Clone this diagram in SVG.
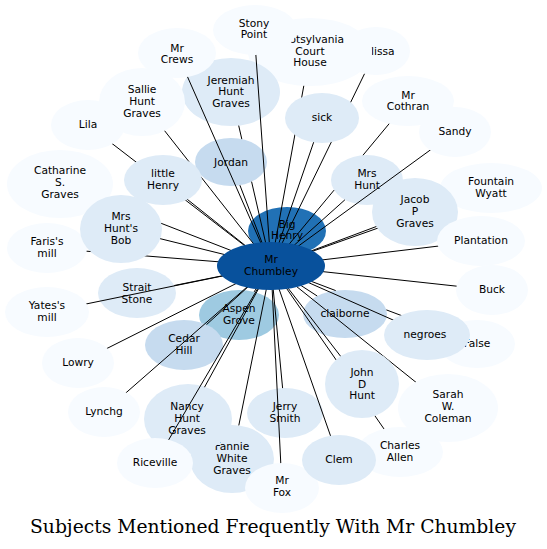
<svg xmlns="http://www.w3.org/2000/svg" width="547" height="549" viewBox="0 0 547 549">
<style>
.n0{fill:#f7fbff}.n1{fill:#deebf7}.n2{fill:#c6dbef}.n3{fill:#9ecae1}.n4{fill:#2171b5}.n5{fill:#08519c}
text{font-family:"DejaVu Sans",Verdana,sans-serif;font-size:10.67px;fill:#000;text-anchor:middle}
.title{font-family:"DejaVu Serif",serif;font-size:19px}
#edges path{stroke:#000;stroke-width:1;fill:none}
</style>
<rect width="547" height="549" fill="#fff"/>
<g id="layer-under">
<g id="melissa"><ellipse class="n0" cx="376" cy="51" rx="34" ry="24"/><text x="375" y="54.5">Melissa</text></g>
<g id="spotsylvania"><ellipse class="n0" cx="310" cy="52" rx="62" ry="34"/><text x="310" y="43">Spotsylvania</text><text x="310" y="54.5">Court</text><text x="310" y="66">House</text></g>
<g id="bighenry"><ellipse class="n4" cx="287" cy="231" rx="39" ry="24"/><text x="287" y="227.5">Big</text><text x="287" y="239">Henry</text></g>
<g id="jeremiah"><ellipse class="n1" cx="231" cy="92" rx="49" ry="34"/><text x="231" y="83.5">Jeremiah</text><text x="231" y="95">Hunt</text><text x="231" y="107">Graves</text></g>
<g id="jordan"><ellipse class="n2" cx="231" cy="162" rx="36" ry="24"/><text x="231" y="166">Jordan</text></g>
<g id="mrshunt"><ellipse class="n1" cx="367" cy="180" rx="36" ry="25"/><text x="367" y="176.5">Mrs</text><text x="367" y="188.5">Hunt</text></g>
<g id="straitstone"><ellipse class="n1" cx="137" cy="293" rx="39" ry="25"/><text x="137" y="290.5">Strait</text><text x="137" y="302.5">Stone</text></g>
<g id="aspengrove"><ellipse class="n3" cx="239" cy="315" rx="40" ry="25"/><text x="239" y="311.5">Aspen</text><text x="239" y="323.5">Grove</text></g>
<g id="cedarhill"><ellipse class="n2" cx="184" cy="345" rx="39" ry="25"/><text x="184" y="342">Cedar</text><text x="184" y="354">Hill</text></g>
<g id="fannie"><ellipse class="n1" cx="232" cy="459" rx="42" ry="34"/><text x="232" y="450">Fannie</text><text x="232" y="462">White</text><text x="232" y="474">Graves</text></g>
<g id="nancy"><ellipse class="n1" cx="188" cy="419" rx="44" ry="35"/><text x="187" y="410">Nancy</text><text x="187" y="422">Hunt</text><text x="187" y="434">Graves</text></g>
<g id="jerrysmith"><ellipse class="n1" cx="285" cy="413" rx="38" ry="25"/><text x="285" y="410">Jerry</text><text x="285" y="422">Smith</text></g>
<g id="claiborne"><ellipse class="n2" cx="345" cy="314" rx="42" ry="24"/><text x="345" y="317">claiborne</text></g>
</g>
<g id="edges">
<path d="M271,266L254,29"/>
<path d="M271,266L177,53"/>
<path d="M271,266L88,125"/>
<path d="M271,266L142,102"/>
<path d="M271,266L163,180"/>
<path d="M271,266L60,184"/>
<path d="M271,266L47,248"/>
<path d="M271,266L121,229"/>
<path d="M271,266L47,312"/>
<path d="M271,266L78,363"/>
<path d="M271,266L104,412"/>
<path d="M271,266L155,463"/>
<path d="M271,266L282,488"/>
<path d="M271,266L400,452"/>
<path d="M271,266L339,460"/>
<path d="M271,266L362,384"/>
<path d="M271,266L448,408"/>
<path d="M271,266L427,335"/>
<path d="M271,266L492,290"/>
<path d="M271,266L491,188"/>
<path d="M271,266L415,212"/>
<path d="M271,266L481,241"/>
<path d="M271,266L455,132"/>
<path d="M271,266L322,118"/>
<path d="M271,266L364.5,73.8"/>
<path d="M271,266L303.8,85.8"/>
<path d="M238.7,125.6L241.8,139.1M251.6,181.7L271,266"/>
<path d="M271,266L239.9,185.2"/>
<path d="M271,266L344.9,199.8"/>
<path d="M408,101L363,155.2M334.1,190.1L271,266"/>
<path d="M271,266L174.2,285.5"/>
<path d="M271,266L254.1,291.9"/>
<path d="M271,266L206.5,324.6"/>
<path d="M271,266L238.8,425.4"/>
<path d="M271,266L204.5,387.2"/>
<path d="M271,266L282.6,388.1"/>
<path d="M271,266L317.2,296"/>
<path d="M271,266L335.7,290.6M386.4,309.9L477,344"/>
</g>
<g id="layer-over">
<g id="stonypoint"><ellipse class="n0" cx="255" cy="30" rx="42" ry="25"/><text x="254" y="26.5">Stony</text><text x="254" y="38">Point</text></g>
<g id="mrcrews"><ellipse class="n0" cx="177" cy="53" rx="39" ry="25"/><text x="177" y="51.5">Mr</text><text x="177" y="63">Crews</text></g>
<g id="lila"><ellipse class="n0" cx="88" cy="125" rx="37" ry="25"/><text x="88" y="128">Lila</text></g>
<g id="sallie"><ellipse class="n0" cx="142" cy="102" rx="43" ry="34"/><text x="142" y="93">Sallie</text><text x="142" y="105">Hunt</text><text x="142" y="117">Graves</text></g>
<g id="littlehenry"><ellipse class="n1" cx="163" cy="180" rx="39" ry="25"/><text x="163" y="176.5">little</text><text x="163" y="188.5">Henry</text></g>
<g id="catharine"><ellipse class="n0" cx="60" cy="184" rx="53" ry="34"/><text x="60" y="174">Catharine</text><text x="60" y="186">S.</text><text x="60" y="198">Graves</text></g>
<g id="faris"><ellipse class="n0" cx="47" cy="248" rx="40" ry="25"/><text x="47" y="245">Faris's</text><text x="47" y="257">mill</text></g>
<g id="mrshuntsbob"><ellipse class="n1" cx="121" cy="229" rx="41" ry="34"/><text x="121" y="220">Mrs</text><text x="121" y="232">Hunt's</text><text x="121" y="244">Bob</text></g>
<g id="yates"><ellipse class="n0" cx="47" cy="312" rx="42" ry="25"/><text x="47" y="309">Yates's</text><text x="47" y="321">mill</text></g>
<g id="lowry"><ellipse class="n0" cx="78" cy="363" rx="36" ry="25"/><text x="78" y="365.5">Lowry</text></g>
<g id="lynchg"><ellipse class="n0" cx="104" cy="412" rx="36" ry="25"/><text x="104" y="415">Lynchg</text></g>
<g id="riceville"><ellipse class="n0" cx="155" cy="463" rx="38" ry="25"/><text x="155" y="466">Riceville</text></g>
<g id="mrfox"><ellipse class="n0" cx="282" cy="488" rx="37" ry="25"/><text x="282" y="484">Mr</text><text x="282" y="496">Fox</text></g>
<g id="charlesallen"><ellipse class="n0" cx="400" cy="452" rx="43" ry="25"/><text x="400" y="449">Charles</text><text x="400" y="461">Allen</text></g>
<g id="clem"><ellipse class="n1" cx="339" cy="460" rx="37" ry="25"/><text x="339" y="463">Clem</text></g>
<g id="johndhunt"><ellipse class="n1" cx="362" cy="384" rx="37" ry="34"/><text x="362" y="376">John</text><text x="362" y="387.5">D</text><text x="362" y="399">Hunt</text></g>
<g id="sarah"><ellipse class="n0" cx="448" cy="408" rx="50" ry="34"/><text x="448" y="398">Sarah</text><text x="448" y="410">W.</text><text x="448" y="422">Coleman</text></g>
<g id="false"><ellipse class="n0" cx="477" cy="344" rx="38" ry="24"/><text x="477" y="347">False</text></g>
<g id="negroes"><ellipse class="n1" cx="427" cy="335" rx="43" ry="25"/><text x="425" y="338">negroes</text></g>
<g id="buck"><ellipse class="n0" cx="492" cy="290" rx="36" ry="25"/><text x="492" y="293">Buck</text></g>
<g id="fountain"><ellipse class="n0" cx="491" cy="188" rx="51" ry="25"/><text x="491" y="185">Fountain</text><text x="491" y="197">Wyatt</text></g>
<g id="jacob"><ellipse class="n1" cx="415" cy="212" rx="43" ry="34"/><text x="415" y="203">Jacob</text><text x="415" y="215">P</text><text x="415" y="227">Graves</text></g>
<g id="plantation"><ellipse class="n0" cx="481" cy="241" rx="44" ry="25"/><text x="481" y="244">Plantation</text></g>
<g id="mrcothran"><ellipse class="n0" cx="408" cy="101" rx="46" ry="25"/><text x="408" y="98.5">Mr</text><text x="408" y="110">Cothran</text></g>
<g id="sandy"><ellipse class="n0" cx="455" cy="132" rx="36" ry="25"/><text x="455" y="135">Sandy</text></g>
<g id="sick"><ellipse class="n1" cx="322" cy="118" rx="37" ry="25"/><text x="322" y="120.5">sick</text></g>
<g id="chumbley"><ellipse class="n5" cx="271" cy="266" rx="54" ry="24"/><text x="271" y="263">Mr</text><text x="271" y="275">Chumbley</text></g>
</g>
<text class="title" x="273" y="533" textLength="486" lengthAdjust="spacingAndGlyphs">Subjects Mentioned Frequently With Mr Chumbley</text>
</svg>
